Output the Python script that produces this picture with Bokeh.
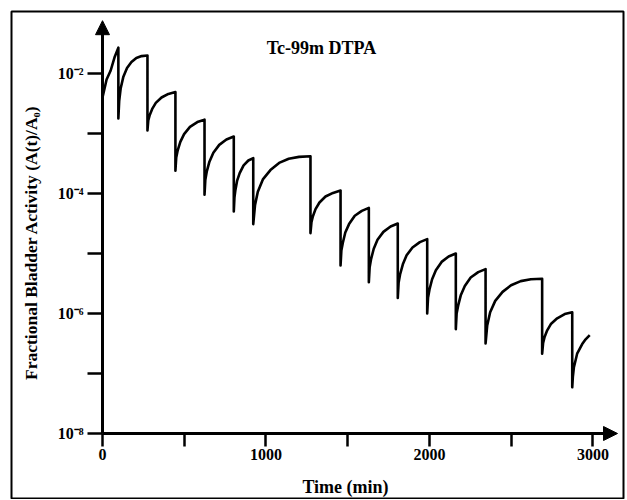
from bokeh.plotting import figure
from bokeh.models import (Range1d, LinearAxis, LogAxis, LogScale, FixedTicker,
                          Arrow, NormalHead, Label, ColumnDataSource, Grid)
from bokeh.embed import file_html
from bokeh.resources import INLINE

# ---- data: time (min) and log10 of fractional activity ----
# each list is one filling period; the last value of one period and the first of
# the next share the same time (the voiding drop)
seg_time = [
    [0, 25, 50, 75, 97],
    [97, 102, 111, 127, 150, 177, 207, 239, 275],
    [275, 280, 289, 304, 326, 361, 403, 446],
    [446, 451, 460, 476, 499, 535, 580, 624],
    [624, 629, 638, 654, 678, 714, 758, 803],
    [803, 807, 813, 823, 839, 863, 892, 922],
    [922, 933, 950, 982, 1027, 1080, 1139, 1202, 1272],
    [1272, 1278, 1287, 1303, 1327, 1364, 1410, 1456],
    [1456, 1461, 1470, 1485, 1508, 1543, 1586, 1629],
    [1629, 1634, 1643, 1659, 1682, 1718, 1762, 1806],
    [1806, 1811, 1820, 1837, 1860, 1896, 1941, 1986],
    [1986, 1991, 2000, 2016, 2039, 2074, 2117, 2161],
    [2161, 2166, 2176, 2192, 2216, 2252, 2298, 2343],
    [2343, 2353, 2371, 2402, 2447, 2499, 2558, 2620, 2689],
    [2689, 2695, 2704, 2720, 2744, 2781, 2827, 2873],
    [2873, 2877, 2883, 2903, 2934, 2955, 2980],
]
seg_log10 = [
    [-2.4, -2.1, -1.95, -1.72, -1.57],
    [-2.75, -2.46, -2.25, -2.06, -1.91, -1.81, -1.74, -1.71, -1.70],
    [-2.95, -2.78, -2.69, -2.59, -2.49, -2.40, -2.34, -2.31],
    [-3.62, -3.40, -3.28, -3.14, -3.01, -2.89, -2.81, -2.77],
    [-4.02, -3.77, -3.63, -3.47, -3.32, -3.19, -3.10, -3.05],
    [-4.30, -4.07, -3.94, -3.79, -3.66, -3.53, -3.45, -3.41],
    [-4.51, -4.19, -3.97, -3.76, -3.61, -3.49, -3.42, -3.39, -3.38],
    [-4.66, -4.48, -4.38, -4.26, -4.15, -4.05, -3.99, -3.95],
    [-5.20, -4.95, -4.82, -4.65, -4.51, -4.37, -4.29, -4.24],
    [-5.48, -5.23, -5.09, -4.92, -4.77, -4.64, -4.55, -4.50],
    [-5.74, -5.49, -5.35, -5.18, -5.03, -4.90, -4.81, -4.76],
    [-6.00, -5.74, -5.60, -5.43, -5.28, -5.14, -5.05, -5.00],
    [-6.26, -6.00, -5.86, -5.69, -5.54, -5.40, -5.31, -5.26],
    [-6.50, -6.20, -5.98, -5.79, -5.64, -5.53, -5.46, -5.43, -5.42],
    [-6.67, -6.49, -6.39, -6.28, -6.17, -6.08, -6.01, -5.98],
    [-7.23, -7.05, -6.90, -6.67, -6.51, -6.43, -6.36],
]

x_ticks = [0, 500, 1000, 1500, 2000, 2500, 3000]
x_tick_labels = ["0", "", "1000", "", "2000", "", "3000"]
y_ticks = [1e-8, 1e-7, 1e-6, 1e-5, 1e-4, 1e-3, 1e-2]
y_tick_labels = ["10\u207b\u2078", "", "10\u207b\u2076", "", "10\u207b\u2074", "", "10\u207b\u00b2"]

title_text = "Tc-99m DTPA"
x_label = "Time (min)"
y_label = "Fractional Bladder Activity (A(t)/A\u2080)"

# ---- build the line ----
t_all, a_all = [], []
for ts, es in zip(seg_time, seg_log10):
    t_all.extend(ts)
    a_all.extend(10 ** e for e in es)
src = ColumnDataSource(dict(t=t_all, a=a_all))

FONT = "Liberation Serif"

p = figure(width=625, height=499,
           x_range=Range1d(-556.6, 3186.6),
           y_range=Range1d(10 ** -9.1, 10 ** -0.9667),
           x_axis_location=None, y_axis_location=None,
           output_backend="svg", toolbar_location=None,
           min_border_left=11, min_border_right=2, min_border_top=11, min_border_bottom=0)
p.y_scale = LogScale()
for r in list(p.center):
    if isinstance(r, Grid):
        r.visible = False
p.outline_line_color = "black"
p.outline_line_width = 2
p.background_fill_color = "white"
p.border_fill_color = "white"

p.line("t", "a", source=src, line_color="black", line_width=2.6, line_join="round")

def style_axis(ax, tick_out):
    ax.axis_line_width = 3
    ax.axis_line_color = "black"
    ax.major_tick_line_width = 2.5
    ax.major_tick_line_color = "black"
    ax.major_tick_in = 0
    ax.major_tick_out = tick_out
    ax.minor_tick_line_color = None
    ax.major_label_text_font = FONT
    ax.major_label_text_font_style = "bold"
    ax.major_label_text_font_size = "16px"
    ax.major_label_text_color = "black"

xaxis = LinearAxis(fixed_location=1e-8, bounds=(0, 3120),
                   ticker=FixedTicker(ticks=x_ticks),
                   major_label_overrides={v: s for v, s in zip(x_ticks, x_tick_labels)})
style_axis(xaxis, 13)
xaxis.major_label_standoff = 3
p.add_layout(xaxis, "below")

yaxis = LogAxis(fixed_location=0, bounds=(1e-8, 10 ** -1.25),
                ticker=FixedTicker(ticks=y_ticks),
                major_label_overrides={v: s for v, s in zip(y_ticks, y_tick_labels)})
style_axis(yaxis, 15)
yaxis.major_label_standoff = 4
p.add_layout(yaxis, "left")

# axis arrows
p.add_layout(Arrow(end=NormalHead(size=14, fill_color="black", line_color="black"),
                   x_start=0, y_start=10 ** -1.4, x_end=0, y_end=10 ** -1.12,
                   line_width=3, line_color="black"))
p.add_layout(Arrow(end=NormalHead(size=14, fill_color="black", line_color="black"),
                   x_start=3050, y_start=1e-8, x_end=3150, y_end=1e-8,
                   line_width=3, line_color="black"))

p.add_layout(Label(x=1339, y=10 ** -1.567, text=title_text, text_font=FONT,
                   text_font_style="bold", text_font_size="18px", text_color="black",
                   text_align="center", text_baseline="middle"))
p.add_layout(Label(x=1486, y=10 ** -8.9, text=x_label, text_font=FONT,
                   text_font_style="bold", text_font_size="18px", text_color="black",
                   text_align="center", text_baseline="middle"))
p.add_layout(Label(x=-440, y=10 ** -4.817, text=y_label, text_font=FONT,
                   text_font_style="bold", text_font_size="17.5px", angle=1.5708,
                   text_color="black", text_align="center", text_baseline="middle"))

open("out.html", "w").write(file_html(p, INLINE))
